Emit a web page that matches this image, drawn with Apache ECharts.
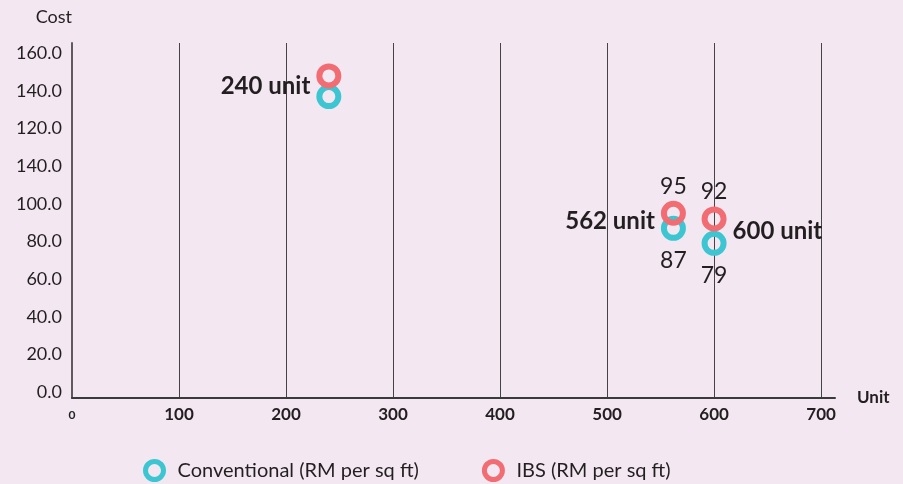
<!DOCTYPE html>
<html>
<head>
<meta charset="utf-8">
<script src="https://cdn.jsdelivr.net/npm/echarts@6/dist/echarts.min.js"></script>
<style>
  html, body { margin: 0; padding: 0; background: #f3e8f2; }
  #chart { width: 903px; height: 484px; }
</style>
</head>
<body>
<div id="chart"></div>
<script>
// Number of units per project and cost per square foot
const units = [240, 562, 600];
const unitLabels = ['240 unit', '562 unit', '600 unit'];
const conventional = [157, 87, 79];
const ibs = [168, 95, 92];
// which projects get their cost printed next to the markers
const showCost = [false, true, true];

// Cost axis tick values and the text printed at each of them
const costTicks = [0, 20, 40, 60, 80, 100, 120, 140, 160, 180];
const costTickLabels = ['0.0', '20.0', '40.0', '60.0', '80.0', '100.0', '140.0', '120.0', '140.0', '160.0'];
const unitTicks = [0, 100, 200, 300, 400, 500, 600, 700];

const TEAL = '#3ec5d2';
const CORAL = '#f26d73';
const INK = '#231f20';
const FONT = 'Lato';

const conventionalName = 'Conventional (RM per sq ft)';
const ibsName = 'IBS (RM per sq ft)';

function pointSeries(name, values, color, labelPos, labelDist) {
  return {
    name: name,
    type: 'scatter',
    symbol: 'circle',
    symbolSize: 19,
    itemStyle: { color: 'rgba(0,0,0,0)', borderColor: color, borderWidth: 6, opacity: 1 },
    emphasis: { disabled: true },
    data: units.map((u, i) => ({
      value: [u, values[i]],
      label: {
        show: showCost[i],
        position: labelPos,
        distance: labelDist,
        formatter: String(values[i]),
        fontFamily: FONT,
        fontSize: 23,
        color: INK,
        opacity: 1
      }
    }))
  };
}

// project names sit beside each pair of markers
const unitPlacement = [
  { position: 'left', offset: [0, 10] },
  { position: 'left', offset: [0, 8] },
  { position: 'right', offset: [0, 12] }
];

const chart = echarts.init(document.getElementById('chart'));
chart.setOption({
  backgroundColor: '#f3e8f2',
  animation: false,
  grid: { left: 72, right: 68, top: 43, bottom: 86, containLabel: false },
  legend: {
    left: 143,
    top: 459,
    padding: 0,
    itemWidth: 18,
    itemHeight: 18,
    itemGap: 63,
    textStyle: { fontFamily: FONT, fontSize: 20, color: INK, padding: [0, 0, 0, 9] },
    data: [
      { name: conventionalName, icon: 'circle', itemStyle: { color: 'rgba(0,0,0,0)', borderColor: TEAL, borderWidth: 5, opacity: 1 } },
      { name: ibsName, icon: 'circle', itemStyle: { color: 'rgba(0,0,0,0)', borderColor: CORAL, borderWidth: 5, opacity: 1 } }
    ]
  },
  xAxis: {
    type: 'value',
    min: 0,
    max: 713,
    name: 'Unit',
    nameLocation: 'end',
    nameGap: 22,
    nameTextStyle: { fontFamily: FONT, fontSize: 17, fontWeight: 'bold', color: INK, verticalAlign: 'middle', padding: [0, 0, 12, 0] },
    axisLine: { show: true, onZero: false, lineStyle: { color: '#3a3a3a', width: 2 } },
    axisTick: { show: false },
    splitLine: { show: true, showMinLine: false, showMaxLine: false, lineStyle: { color: '#444', width: 1 } },
    axisLabel: {
      customValues: unitTicks,
      margin: 8,
      fontFamily: FONT,
      fontSize: 17,
      fontWeight: 'bold',
      color: INK,
      formatter: v => (v === 0 ? '{s|0}' : String(v)),
      rich: { s: { fontFamily: FONT, fontSize: 12, fontWeight: 'bold', color: INK, padding: [3, 0, 0, 0] } }
    }
  },
  yAxis: {
    type: 'value',
    min: -3.2,
    max: 185.5,
    name: 'Cost',
    nameLocation: 'end',
    nameGap: 26,
    nameTextStyle: { fontFamily: FONT, fontSize: 18, color: INK, align: 'right', verticalAlign: 'middle' },
    axisLine: { show: true, onZero: false, lineStyle: { color: '#5e5a5e', width: 2 } },
    axisTick: { show: false },
    splitLine: { show: false },
    axisLabel: {
      customValues: costTicks,
      margin: 10,
      fontFamily: FONT,
      fontSize: 18,
      color: INK,
      formatter: v => costTickLabels[costTicks.indexOf(v)] || ''
    }
  },
  series: [
    pointSeries(conventionalName, conventional, TEAL, 'bottom', 8),
    pointSeries(ibsName, ibs, CORAL, 'top', 3),
    {
      name: 'project',
      type: 'scatter',
      symbol: 'circle',
      symbolSize: 19,
      silent: true,
      z: 3,
      itemStyle: { color: 'rgba(0,0,0,0)', borderWidth: 0, opacity: 1 },
      emphasis: { disabled: true },
      data: units.map((u, i) => ({
        value: [u, ibs[i]],
        label: {
          show: true,
          position: unitPlacement[i].position,
          offset: unitPlacement[i].offset,
          distance: 9,
          formatter: unitLabels[i],
          fontFamily: FONT,
          fontSize: 24,
          fontWeight: 'bold',
          color: INK,
          opacity: 1
        }
      }))
    }
  ]
});
</script>
</body>
</html>
